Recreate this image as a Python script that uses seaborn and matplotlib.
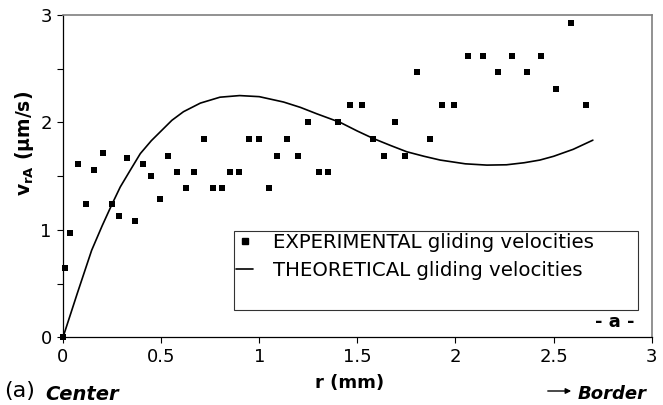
import matplotlib
matplotlib.use("Agg")
import matplotlib.pyplot as plt
import seaborn as sns
from matplotlib.lines import Line2D
from matplotlib.ticker import MultipleLocator, FormatStrFormatter

# experimental points
exp_r = [0, 0.012, 0.037, 0.075, 0.117, 0.156, 0.205, 0.248, 0.285, 0.324,
         0.365, 0.406, 0.45, 0.492, 0.535, 0.582, 0.626, 0.669, 0.718, 0.766,
         0.808, 0.851, 0.895, 0.946, 1.0, 1.048, 1.093, 1.144, 1.197, 1.251,
         1.304, 1.35, 1.402, 1.463, 1.526, 1.582, 1.635, 1.693, 1.745, 1.806,
         1.868, 1.931, 1.993, 2.063, 2.141, 2.218, 2.29, 2.365, 2.438, 2.513,
         2.588, 2.664]
exp_v = [0, 0.645, 0.968, 1.61, 1.24, 1.56, 1.72, 1.24, 1.13, 1.67,
         1.08, 1.61, 1.505, 1.29, 1.69, 1.54, 1.39, 1.54, 1.85, 1.39,
         1.39, 1.54, 1.54, 1.85, 1.85, 1.39, 1.69, 1.85, 1.69, 2.0,
         1.54, 1.54, 2.0, 2.16, 2.16, 1.85, 1.69, 2.0, 1.69, 2.47,
         1.85, 2.16, 2.16, 2.62, 2.62, 2.47, 2.62, 2.47, 2.62, 2.31,
         2.93, 2.16]

# theoretical curve
theo_r = [0, 0.073, 0.146, 0.2, 0.25, 0.292, 0.343, 0.394, 0.45, 0.555,
          0.614, 0.7, 0.8, 0.9, 1.0, 1.124, 1.21, 1.294, 1.413, 1.5,
          1.582, 1.67, 1.752, 1.84, 1.922, 2.05, 2.16, 2.26, 2.35, 2.43,
          2.5, 2.6, 2.7]
theo_v = [0, 0.41, 0.81, 1.04, 1.24, 1.40, 1.556, 1.71, 1.83, 2.02,
          2.10, 2.18, 2.235, 2.25, 2.24, 2.19, 2.14, 2.08, 2.0, 1.92,
          1.85, 1.785, 1.727, 1.685, 1.65, 1.615, 1.603, 1.606, 1.625, 1.65,
          1.685, 1.75, 1.835]

sns.set_style("ticks")
plt.rcParams['font.family'] = ['DejaVu Sans']
plt.rcParams['text.color'] = 'black'
plt.rcParams['xtick.labelcolor'] = 'black'
plt.rcParams['ytick.labelcolor'] = 'black'

fig = plt.figure(figsize=(6.63, 4.05), dpi=100)
ax = fig.add_axes([0.095, 0.167, 0.888, 0.796])

sns.lineplot(x=theo_r, y=theo_v, ax=ax, color='black', linewidth=1.2)
sns.scatterplot(x=exp_r, y=exp_v, ax=ax, marker='s', s=20, color='black',
                edgecolor='black', linewidth=0, clip_on=False, zorder=5)

ax.set_xlim(0, 3)
ax.set_ylim(0, 3)
ax.xaxis.set_major_locator(MultipleLocator(0.5))
ax.xaxis.set_major_formatter(FormatStrFormatter('%g'))
ax.yaxis.set_major_locator(MultipleLocator(1))
ax.yaxis.set_major_formatter(FormatStrFormatter('%g'))
ax.yaxis.set_minor_locator(MultipleLocator(0.5))
ax.tick_params(axis='both', which='both', direction='out', length=4,
               width=0.8, color='black', labelcolor='black', labelsize=13,
               pad=4)

for side in ['left', 'bottom']:
    ax.spines[side].set_color('black')
    ax.spines[side].set_linewidth(0.9)
for side in ['top', 'right']:
    ax.spines[side].set_visible(True)
    ax.spines[side].set_color('#7f7f7f')
    ax.spines[side].set_linewidth(1.2)

handles = [
    Line2D([], [], color='black', marker='s', markersize=4.5, linestyle='none'),
    Line2D([], [], color='black', linewidth=1.2),
    Line2D([], [], color='none', linewidth=0),
]
leg = ax.legend(handles, ['EXPERIMENTAL gliding velocities',
                          'THEORETICAL gliding velocities', ''],
                loc='upper left', bbox_to_anchor=(0.29, 0.02, 0.687, 0.31),
                mode='expand', fontsize=14.2, frameon=True, fancybox=False,
                handlelength=0.9, handletextpad=1.0, borderpad=0.1,
                borderaxespad=0, labelspacing=0.45)
leg.get_frame().set_edgecolor('black')
leg.get_frame().set_linewidth(0.8)

ax.text(0.971, 0.048, '- a -', transform=ax.transAxes, ha='right',
        va='center', fontsize=13, fontweight='bold')

fig.text(25 / 663, 1 - 143 / 405, r'$\mathbf{v_{rA}}$ (µm/s)', rotation=90,
         ha='center', va='center', fontsize=13.5, fontweight='bold')
fig.text(350 / 663, 1 - 383 / 405, 'r (mm)', ha='center', va='center',
         fontsize=13, fontweight='bold')
fig.text(4 / 663, 1 - 391 / 405, '(a)', ha='left', va='center', fontsize=16)
fig.text(45 / 663, 1 - 394 / 405, 'Center', ha='left', va='center',
         fontsize=14, fontweight='bold', style='italic')
fig.text(647 / 663, 1 - 394 / 405, 'Border', ha='right', va='center',
         fontsize=13, fontweight='bold', style='italic')
fig.add_artist(matplotlib.patches.FancyArrowPatch(
    (545 / 663, 1 - 391 / 405), (574 / 663, 1 - 391 / 405),
    transform=fig.transFigure, arrowstyle='-|>', mutation_scale=8,
    color='black', linewidth=1))

fig.savefig('out.png', dpi=100)
